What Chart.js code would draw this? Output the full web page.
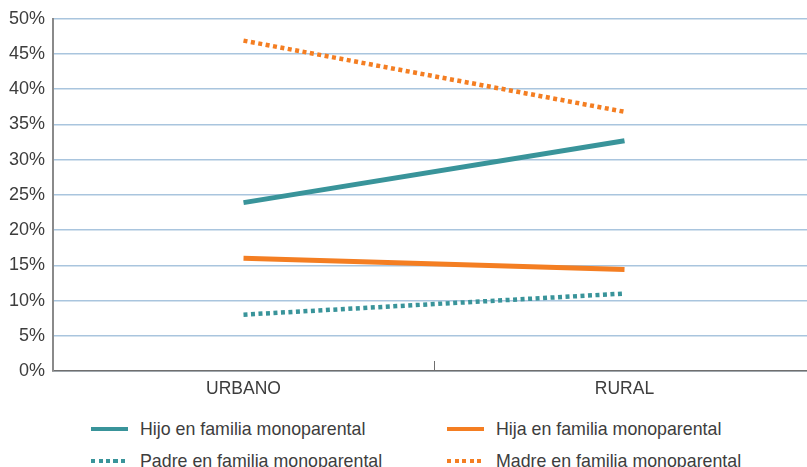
<!DOCTYPE html>
<html lang="es">
<head>
<meta charset="utf-8">
<style>
    html, body { margin: 0; padding: 0; background: #fff; overflow: hidden; }
    #wrap { position: relative; width: 815px; height: 467px; }
    #chartBox { position: absolute; left: 0; top: 0; width: 815px; height: 408px; }
    .legend-item { position: absolute; height: 20px; display: flex; align-items: center;
        font-family: "Liberation Sans", Arial, sans-serif; font-size: 17.8px; color: #3d3d3d; white-space: nowrap; }
    .swatch { width: 37px; height: 4.5px; margin-right: 12px; }
</style>
</head>
<body>
<div id="wrap">
    <div id="chartBox"><canvas id="lineChart"></canvas></div>
    <div id="legend"></div>
</div>
<script src="https://cdn.jsdelivr.net/npm/chart.js"></script>
<script>
    // datos
    const categories = ['URBANO', 'RURAL'];
    const hijo = [23.9, 32.7];
    const hija = [16.0, 14.4];
    const padre = [8.0, 11.0];
    const madre = [46.9, 36.8];
    const seriesLabels = [
        'Hijo en familia monoparental',
        'Hija en familia monoparental',
        'Padre en familia monoparental',
        'Madre en familia monoparental'
    ];
    const yTicks = [0, 5, 10, 15, 20, 25, 30, 35, 40, 45, 50];

    const TEAL = '#39949a';
    const ORANGE = '#f47e22';
    const FONT = '"Liberation Sans", Arial, sans-serif';

    const datasets = [
        { label: seriesLabels[0], data: hijo, borderColor: TEAL, borderWidth: 5, dotted: false },
        { label: seriesLabels[1], data: hija, borderColor: ORANGE, borderWidth: 5, dotted: false },
        { label: seriesLabels[2], data: padre, borderColor: TEAL, borderWidth: 4.5, borderDash: [4, 3.5], dotted: true },
        { label: seriesLabels[3], data: madre, borderColor: ORANGE, borderWidth: 4.5, borderDash: [4, 3.5], dotted: true }
    ].map(d => Object.assign(d, { pointRadius: 0, fill: false, tension: 0, borderCapStyle: 'butt' }));

    // marca de separación entre categorías (hacia arriba, sobre el eje)
    const midTicks = {
        id: 'midTicks',
        afterDatasetsDraw(chart) {
            const x = chart.scales.x, ctx = chart.ctx;
            const bottom = chart.chartArea.bottom;
            ctx.save();
            ctx.strokeStyle = '#6f6f6f';
            ctx.lineWidth = 1;
            for (let i = 0; i < categories.length - 1; i++) {
                const px = Math.round((x.getPixelForValue(i) + x.getPixelForValue(i + 1)) / 2) + 0.5;
                ctx.beginPath();
                ctx.moveTo(px, bottom - 10);
                ctx.lineTo(px, bottom);
                ctx.stroke();
            }
            ctx.restore();
        }
    };

    new Chart(document.getElementById('lineChart'), {
        type: 'line',
        data: { labels: categories, datasets },
        plugins: [midTicks],
        options: {
            responsive: true,
            maintainAspectRatio: false,
            animation: false,
            layout: { padding: { top: 4.5, right: 0, left: 0, bottom: 0 } },
            plugins: { legend: { display: false }, tooltip: { enabled: false } },
            scales: {
                x: {
                    offset: true,
                    grid: { display: false, drawTicks: false },
                    border: { display: true, color: '#6f6f6f', width: 1.5 },
                    ticks: { padding: 8, color: '#3d3d3d', font: { family: FONT, size: 17.5 } }
                },
                y: {
                    min: 0, max: 50,
                    afterFit: s => { s.width = 53; },
                    afterBuildTicks: s => { s.ticks = yTicks.map(v => ({ value: v })); },
                    grid: { color: '#a9c5de', lineWidth: 1.5, drawTicks: false },
                    border: { display: true, color: '#8a8a8a', width: 2 },
                    ticks: {
                        padding: 8, color: '#3d3d3d',
                        font: { family: FONT, size: 18 },
                        callback: v => v + '%'
                    }
                }
            }
        }
    });

    // leyenda en dos columnas
    const legendPos = [
        { left: 91, top: 419 }, { left: 447, top: 419 },
        { left: 91, top: 451 }, { left: 447, top: 451 }
    ];
    const legendEl = document.getElementById('legend');
    datasets.forEach((d, i) => {
        const item = document.createElement('div');
        item.className = 'legend-item';
        item.style.left = legendPos[i].left + 'px';
        item.style.top = legendPos[i].top + 'px';
        const sw = document.createElement('span');
        sw.className = 'swatch';
        sw.style.background = d.dotted
            ? `repeating-linear-gradient(to right, ${d.borderColor} 0 4px, transparent 4px 7.5px)`
            : d.borderColor;
        const txt = document.createElement('span');
        txt.textContent = d.label;
        item.appendChild(sw);
        item.appendChild(txt);
        legendEl.appendChild(item);
    });
</script>
</body>
</html>
